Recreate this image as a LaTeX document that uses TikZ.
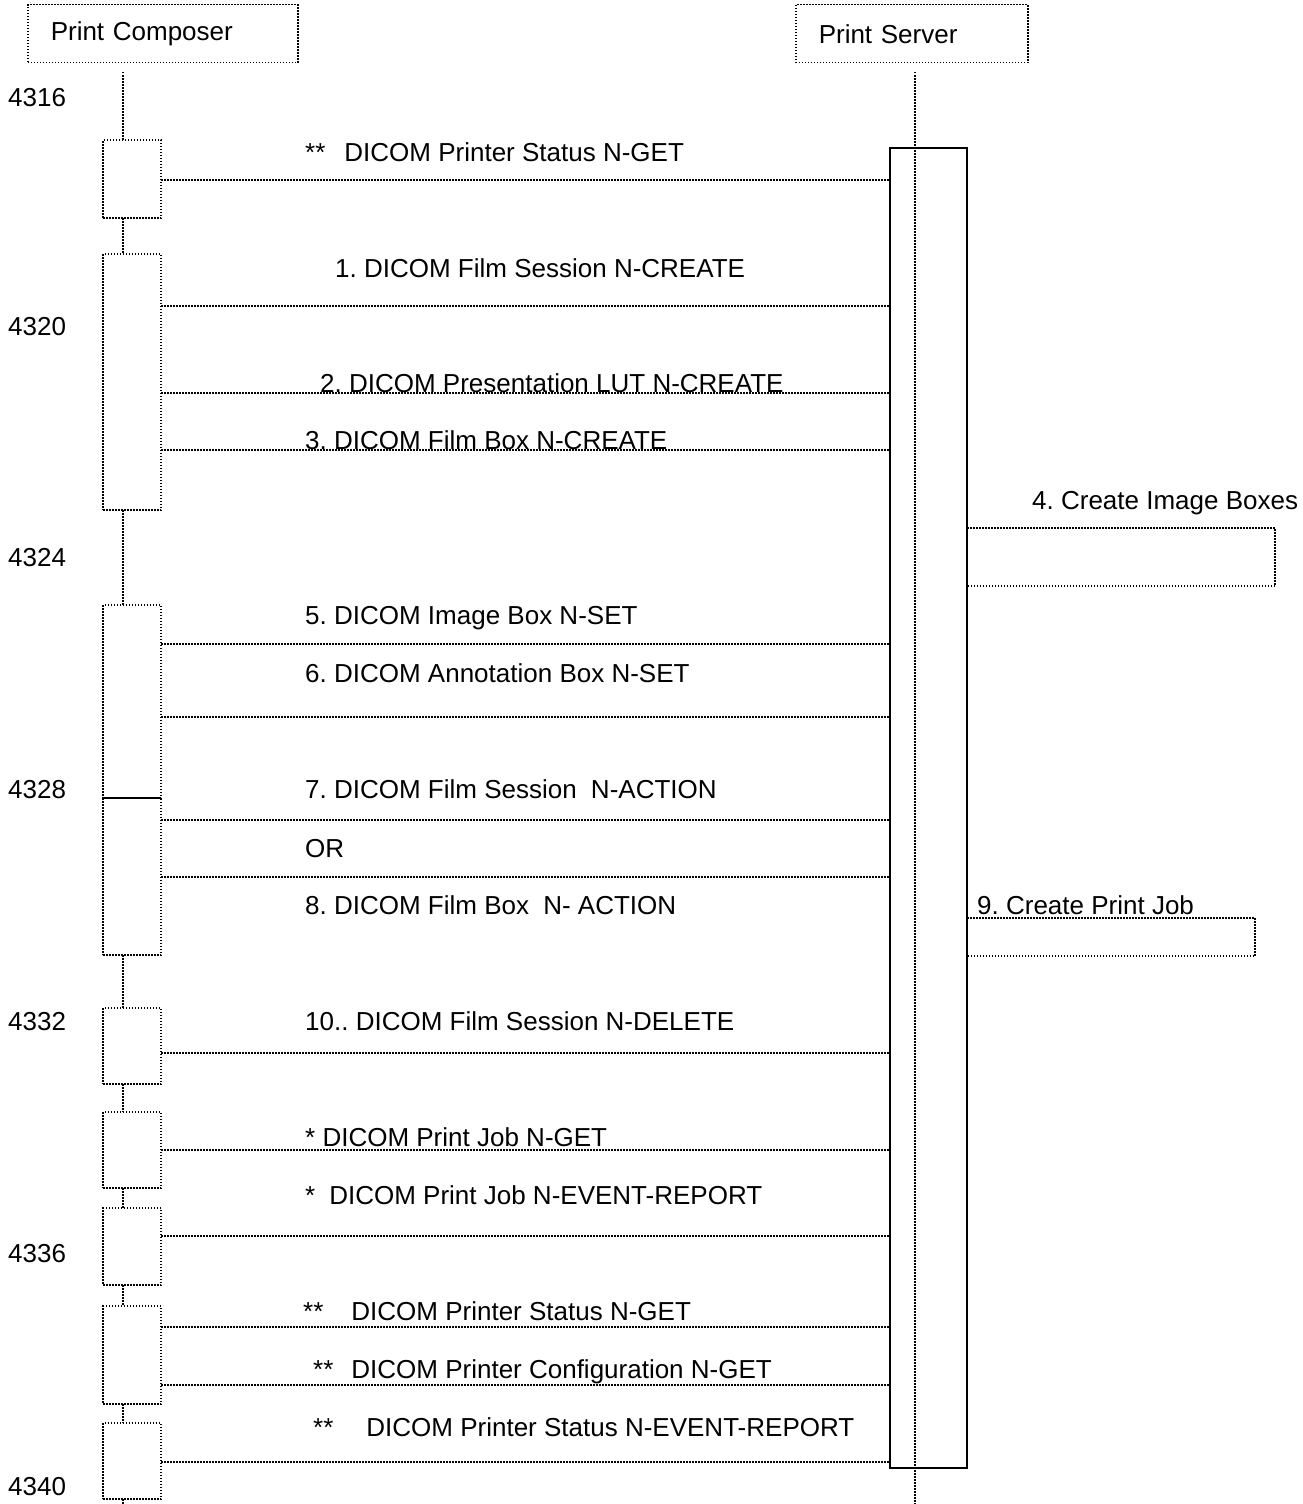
\documentclass[tikz,border=0pt]{standalone}
\usepackage{fontspec}
\setmainfont{Liberation Sans}
\usepackage{tikz}
\usetikzlibrary{positioning}
\frenchspacing

\begin{document}
\begin{tikzpicture}[
			x=1pt, y=-1pt,
			font=\fontsize{26}{30}\selectfont,
			dotline/.style={line width=1.5pt, dash pattern=on 1.5pt off 1.5pt},
			head/.style={draw, dotline, rectangle, minimum height=58pt, inner xsep=23pt, inner ysep=0pt, align=left, anchor=north west},
			actbox/.style={draw, dotline, rectangle, minimum width=58pt, inner sep=0pt, outer sep=0pt, anchor=north west},
			lbl/.style={anchor=base west, inner sep=0pt}
			]
			\useasboundingbox (0,0) rectangle (1303,1504);
			% Kopfzeilen
			\node[head, text width=224pt] (comp) at (27,4) {Print Composer};
			\node[head, text width=186pt] (serv) at (795,4) {Print Server};
			
			% Lebenslinien
			\coordinate (cl) at (123,72);
			\coordinate (sl) at (915,72);
			
			% Aktivierungen Print Composer
			\foreach \n/\t/\h in {a1/140/78, a2/254/256, a3/605/193, a4/798/157, a5/1008/76, a6/1112/76, a7/1208/77, a8/1306/98, a9/1423/76}
				\node[actbox, minimum height=\h pt] (\n) at (103,\t) {};
			
			\draw[dotline] (cl) -- (cl |- a1.north);
			\foreach \p/\q in {a1/a2, a2/a3, a4/a5, a5/a6, a6/a7, a7/a8, a8/a9}
				\draw[dotline] (\p.south -| cl) -- (\q.north -| cl);
			\draw[dotline] (a9.south -| cl) -- (123,1504);
			
			% Aktivierung Print Server
			\node[draw, line width=1.5pt, rectangle, minimum width=77pt, minimum height=1320pt, inner sep=0pt, outer sep=0pt, anchor=north west] (srv) at (890,148) {};
			\draw[dotline] (sl) -- (915,1504);
			
			% Nachrichten
			\foreach \y in {180, 306, 393, 450, 644, 717, 820, 877, 1053, 1150, 1236, 1327, 1385, 1462}
				\draw[dotline] (161,\y) -- (srv.west |- 0,\y);
			
			\node[lbl] (t1) at (305,161) {**\hspace{19pt}DICOM Printer Status N-GET};
			\node[lbl] (t2) at (335,277) {1. DICOM Film Session N-CREATE};
			\node[lbl] (t3) at (320,392) {2. DICOM Presentation LUT N-CREATE};
			\node[lbl] (t4) at (305,449) {3. DICOM Film Box N-CREATE};
			\node[lbl] (t5) at (305,624) {5. DICOM Image Box N-SET};
			\node[lbl] (t6) at (305,682) {6. DICOM Annotation Box N-SET};
			\node[lbl] (t7) at (305,798) {7. DICOM Film Session\hspace{7pt} N-ACTION};
			\node[lbl] (t8) at (305,857) {OR};
			\node[lbl] (t9) at (305,914) {8. DICOM Film Box\hspace{7pt} N- ACTION};
			\node[lbl] (t10) at (305,1030) {10.. DICOM Film Session N-DELETE};
			\node[lbl] (t11) at (305,1146) {* DICOM Print Job N-GET};
			\node[lbl] (t12) at (305,1204) {*\hspace{14pt}DICOM Print Job N-EVENT-REPORT};
			\node[lbl] (t13) at (303,1320) {**\hspace{28pt}DICOM Printer Status N-GET};
			\node[lbl] (t14) at (313,1378) {**\hspace{18pt}DICOM Printer Configuration N-GET};
			\node[lbl] (t15) at (313,1436) {**\hspace{33pt}DICOM Printer Status N-EVENT-REPORT};
			
			% Selbstaufrufe Print Server
			\draw[dotline] (srv.east |- 0,528) -- (1275,528) -- (1275,586) -- (srv.east |- 0,586);
			\draw[dotline] (srv.east |- 0,918) -- (1255,918) -- (1255,956) -- (srv.east |- 0,956);
			\node[lbl] (s4) at (1032,509) {4. Create Image Boxes};
			\node[lbl] (s9) at (977,914) {9. Create Print Job};
			
			% Zeilennummern
			\foreach \z/\y in {4316/106, 4320/335, 4324/566, 4328/798, 4332/1030, 4336/1262, 4340/1495}
				\node[lbl] (n\z) at (8,\y) {\z};
		\end{tikzpicture}
\end{document}
